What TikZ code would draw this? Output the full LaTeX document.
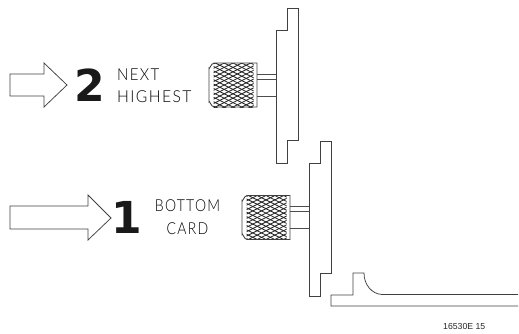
\documentclass[tikz,border=0pt]{standalone}
\usepackage{fontspec}
\setmainfont[UprightFont=* Light,LetterSpace=9]{Lato}
\newfontfamily\codefont{Liberation Sans}
\newfontfamily\digitfont{DejaVu Sans}
\tikzset{
  outline/.style={draw=black!75,line width=0.75pt,line join=miter},
  thinline/.style={draw=black!70,line width=0.7pt},
  lbl/.style={inner sep=0pt,anchor=base west,text=black,font=\fontsize{16.5}{16.5}\selectfont},
  lblc/.style={inner sep=0pt,anchor=base,text=black,font=\fontsize{16.5}{16.5}\selectfont},
  bigdigit/.style={inner sep=0pt,anchor=base,text=black!90,font=\digitfont\bfseries\fontsize{44}{44}\selectfont},
  mesh/.style={draw=black!85,line width=0.85pt},
  pics/knurlknob/.style={code={
    \begin{scope}
      \clip (4.5,0.5) rectangle (44.5,44);
      \foreach \k in {-10,...,16}{
        \draw[mesh] (0,{\k*4.4-12}) -- (48,{\k*4.4+12});
        \draw[mesh] (0,{\k*4.4+12}) -- (48,{\k*4.4-12});
      }
    \end{scope}
    \draw[outline,line width=0.85pt] (48,0) -- (5,0) to[out=180,in=-90] (0,5) -- (0,39) to[out=90,in=180] (5,44) -- (48,44) -- cycle;
    \draw[thinline] (48,11) -- (67,11) (48,16) -- (67,16) (48,33) -- (67,33);
  }},
  pics/cardpanel/.style={code={
    \draw[outline] (11,8) -- (22,8) -- (22,140) -- (11,140) -- (11,163) -- (0,163) -- (0,30) -- (11,30) -- cycle;
  }}
}
\begin{document}
\begin{tikzpicture}[x=1pt,y=-1pt]
\useasboundingbox (0,0) rectangle (519,333);
\draw[outline] (10,74) -- (44,74) -- (44,63) -- (67,85) -- (44,107) -- (44,96) -- (10,96) -- cycle;
\draw[outline] (10,206) -- (88,206) -- (88,195) -- (111,218) -- (88,240) -- (88,229) -- (10,229) -- cycle;
\node[bigdigit] (two) at (90,101) {2};
\node[bigdigit] (one) at (127,233) {1};
\node[lbl] (next) at (117,80) {\scalebox{0.91}[1]{NEXT}};
\node[lbl] (highest) at (117,102) {\scalebox{0.95}[1]{HIGHEST}};
\node[lblc] (bottom) at (187.5,211) {\scalebox{0.85}[1]{BOTTOM}};
\node[lblc] (card) at (187.5,234) {\scalebox{0.85}[1]{CARD}};
\pic at (209,63) {knurlknob};
\pic at (276,0) {cardpanel};
\pic at (242,195.5) {knurlknob};
\pic at (309,133) {cardpanel};
\draw[outline] (518,306) -- (331,306) -- (331,295) -- (353,295) -- (353,273) -- (364,273) .. controls (364,285) and (372,294) .. (382,294.5) -- (518,294.5);
\node[inner sep=0pt,anchor=base west,text=black!85,font=\codefont\fontsize{8.7}{9}\selectfont] (code) at (443,329) {16530E 15};
\end{tikzpicture}
\end{document}
